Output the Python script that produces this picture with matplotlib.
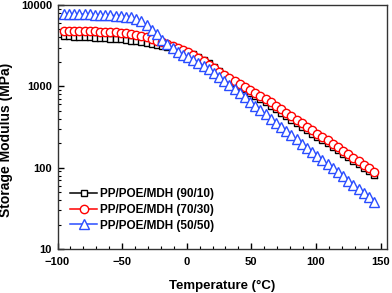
import matplotlib
matplotlib.use("Agg")
import matplotlib.pyplot as plt
from matplotlib.ticker import MultipleLocator, LogLocator, NullFormatter

plt.rcParams['font.family'] = ['Liberation Sans', 'DejaVu Sans']
plt.rcParams['font.weight'] = 'bold'

# Temperatures (°C), marker every 4 °C, final point is line end only
temperature = [-95, -91, -87, -83, -79, -75, -71, -67, -63, -59, -55, -51, -47, -43, -39,
               -35, -31, -27, -23, -19, -15, -11, -7, -3, 1, 5, 9, 13, 17, 21, 25, 29,
               33, 37, 41, 45, 49, 53, 57, 61, 65, 69, 73, 77, 81, 85, 89, 93, 97, 101,
               105, 109, 113, 117, 121, 125, 129, 133, 137, 141, 145, 147.5]

mod_90_10 = [4121, 4110, 4087, 4064, 4041, 4006, 3972, 3939, 3905, 3861, 3818, 3775, 3722,
             3659, 3587, 3507, 3418, 3323, 3221, 3113, 3010, 2901, 2796, 2695, 2605, 2497,
             2326, 2137, 1935, 1727, 1542, 1377, 1229, 1113, 1009, 927, 839, 770, 708, 641,
             580, 526, 476, 431, 390, 354, 320, 290, 263, 238, 218, 201, 182, 165, 149, 135,
             122, 111, 100, 90.8, 81.1, 73.9]

mod_70_30 = [4858, 4845, 4832, 4818, 4791, 4764, 4737, 4710, 4683, 4657, 4617, 4578, 4500,
             4400, 4276, 4157, 4006, 3840, 3659, 3477, 3295, 3113, 2959, 2796, 2641, 2461,
             2260, 2047, 1853, 1679, 1520, 1377, 1265, 1162, 1067, 980, 900, 827, 760, 698,
             641, 580, 526, 476, 431, 390, 354, 320, 290, 263, 238, 218, 198, 179, 162, 147,
             133, 121, 109, 98.9, 88.3, 83.4]

mod_50_50 = [7820, 7800, 7770, 7750, 7700, 7660, 7620, 7570, 7530, 7470, 7400, 7320, 7200,
             7020, 6730, 6270, 5600, 4995, 4400, 3763, 3313, 2960, 2680, 2460, 2293, 2137,
             1963, 1803, 1633, 1478, 1320, 1178, 1051, 939, 827, 739, 650, 580, 511, 456,
             402, 359, 316, 282, 252, 222, 198, 174, 156, 139, 124, 111, 98.9, 88.3, 78.8,
             69.4, 61.9, 55.3, 48.7, 43.5, 38.3, 33.0]

labels = ['PP/POE/MDH (90/10)', 'PP/POE/MDH (70/30)', 'PP/POE/MDH (50/50)']
colors = ['#000000', '#ff0000', '#2a4dff']
markers = ['s', 'o', '^']
sizes = [5.0, 6.0, 6.5]

fig = plt.figure(figsize=(3.92, 2.93), dpi=100)
ax = fig.add_axes([57.5 / 392, 44 / 293, 329.5 / 392, 244 / 293])

n = len(temperature)
for y, lab, c, m, s in zip([mod_90_10, mod_70_30, mod_50_50], labels, colors, markers, sizes):
    ax.plot(temperature, y, color=c, lw=1.1, marker=m, ms=s, mfc='white', mec=c, mew=1.0,
            markevery=list(range(n - 1)), label=lab)

ax.set_yscale('log')
ax.set_xlim(-100, 155)
ax.set_ylim(10, 10000)
ax.set_yticks([10, 100, 1000, 10000])
ax.set_yticklabels(['10', '100', '1000', '10000'])
ax.yaxis.set_minor_locator(LogLocator(base=10, subs=range(2, 10)))
ax.yaxis.set_minor_formatter(NullFormatter())
ax.set_xticks([-100, -50, 0, 50, 100, 150])
ax.xaxis.set_minor_locator(MultipleLocator(10))

ax.tick_params(which='both', direction='in', top=False, right=False, labelsize=8)
ax.tick_params(which='major', length=4, width=1, pad=4)
ax.tick_params(axis='x', which='major', pad=5.5)
ax.tick_params(which='minor', length=2, width=0.8)
for sp in ax.spines.values():
    sp.set_linewidth(1.0)
    sp.set_color('#333333')

ax.set_xlabel('Temperature (°C)', fontsize=9.5, fontweight='bold')
ax.xaxis.set_label_coords(0.5, -0.128)
ax.set_ylabel('Storage Modulus (MPa)', fontsize=10, fontweight='bold')
ax.yaxis.set_label_coords(-0.135, 0.447)

ax.legend(loc='center left', bbox_to_anchor=(0.038, 0.16), frameon=False, fontsize=8.5,
          handlelength=2.3, handletextpad=0.25, labelspacing=0.3, borderpad=0,
          borderaxespad=0)

fig.savefig('out.png', dpi=100)
